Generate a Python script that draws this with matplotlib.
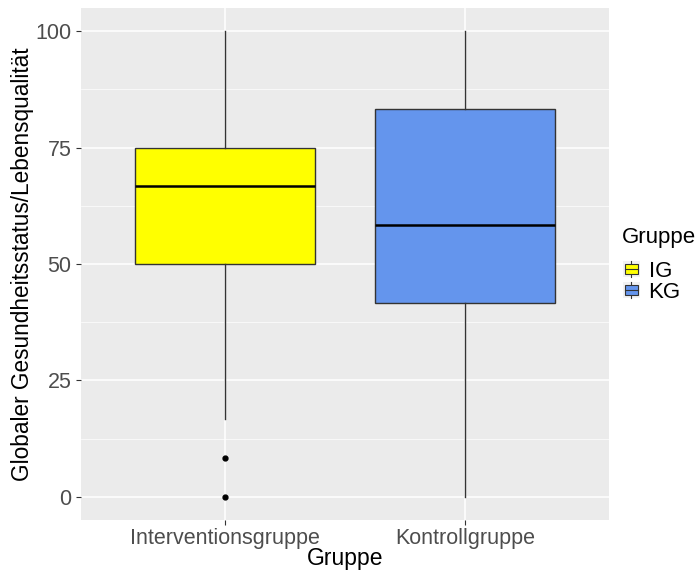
import numpy as np
import matplotlib.pyplot as plt
from matplotlib.patches import Patch, Rectangle
from matplotlib.lines import Line2D
from matplotlib.legend_handler import HandlerBase

plt.rcParams['font.family'] = ['Liberation Sans', 'DejaVu Sans']

# Boxplot statistics
groups = ['Interventionsgruppe', 'Kontrollgruppe']
legend_labels = ['IG', 'KG']
colors = ['#FFFF00', '#6495ED']
q1 = [50.0, 41.67]
med = [66.67, 58.33]
q3 = [75.0, 83.33]
whislo = [16.67, 0.0]
whishi = [100.0, 100.0]
outliers = [[8.33, 0.0], []]

stats = []
for i in range(len(groups)):
    stats.append({'q1': q1[i], 'med': med[i], 'q3': q3[i],
                  'whislo': whislo[i], 'whishi': whishi[i],
                  'fliers': outliers[i], 'label': groups[i]})


class BoxKeyHandler(HandlerBase):
    # ggplot-like legend key: grey background, small box with whisker line
    def create_artists(self, legend, orig_handle, xdescent, ydescent,
                       width, height, fontsize, trans):
        bg = Rectangle((-xdescent, -ydescent), width, height,
                       facecolor='#F2F2F2', edgecolor='none', transform=trans)
        cx = -xdescent + width / 2
        wl = Line2D([cx, cx], [-ydescent, -ydescent + height],
                    color='#333333', linewidth=0.8, transform=trans)
        bw = width * 0.75
        bh = height * 0.6
        box = Rectangle((cx - bw / 2, -ydescent + (height - bh) / 2), bw, bh,
                        facecolor=orig_handle.get_facecolor(), edgecolor='#333333',
                        linewidth=0.8, transform=trans)
        ml = Line2D([cx - bw / 2, cx + bw / 2], [-ydescent + height / 2] * 2,
                    color='#333333', linewidth=0.8, transform=trans)
        return [bg, wl, box, ml]


fig = plt.figure(figsize=(7, 5.7), dpi=100)
ax = fig.add_axes([81 / 700, 50 / 570, 528 / 700, 512 / 570])
ax.set_facecolor('#EBEBEB')

bp = ax.bxp(stats, positions=[1, 2], widths=0.75, patch_artist=True,
            showcaps=False, zorder=3,
            boxprops=dict(edgecolor='#333333', linewidth=1.0),
            whiskerprops=dict(color='#333333', linewidth=1.0),
            medianprops=dict(color='black', linewidth=1.8),
            flierprops=dict(marker='o', markerfacecolor='black', markeredgecolor='black',
                            markersize=3.5))
for patch, c in zip(bp['boxes'], colors):
    patch.set_facecolor(c)

ax.set_xlim(0.4, 2.6)
ax.set_ylim(-5, 105)
ax.set_yticks([0, 25, 50, 75, 100])
ax.set_yticks([12.5, 37.5, 62.5, 87.5], minor=True)
ax.set_xticks([1, 2])
ax.set_xticklabels(groups)
ax.grid(True, which='major', color='white', linewidth=1.1, zorder=0)
ax.grid(True, which='minor', axis='y', color='white', linewidth=0.5, zorder=0)
ax.set_axisbelow(True)
for s in ax.spines.values():
    s.set_visible(False)
ax.tick_params(axis='both', which='major', colors='#333333', labelcolor='#4D4D4D',
               labelsize=15.5, length=3.5, width=0.8)
ax.tick_params(axis='x', which='major', pad=2.5)
ax.tick_params(axis='y', which='minor', length=0)

ax.set_xlabel('Gruppe', fontsize=16.5, labelpad=-2)
ax.set_ylabel('Globaler Gesundheitsstatus/Lebensqualität', fontsize=16.3, labelpad=1)

# legend title placed separately to get ggplot's spacing
fig.text(622 / 700, 1 - 238 / 570, 'Gruppe', fontsize=16, va='center', ha='left')
handles = [Patch(facecolor=c) for c in colors]
leg = fig.legend(handles, legend_labels, loc='upper left',
                 bbox_to_anchor=(623 / 700, 1 - 261 / 570), frameon=False,
                 fontsize=16, handlelength=0.75, handleheight=0.75,
                 handletextpad=0.4, labelspacing=0.0, borderaxespad=0, borderpad=0,
                 handler_map={Patch: BoxKeyHandler()})

fig.savefig('out.png', dpi=100)
